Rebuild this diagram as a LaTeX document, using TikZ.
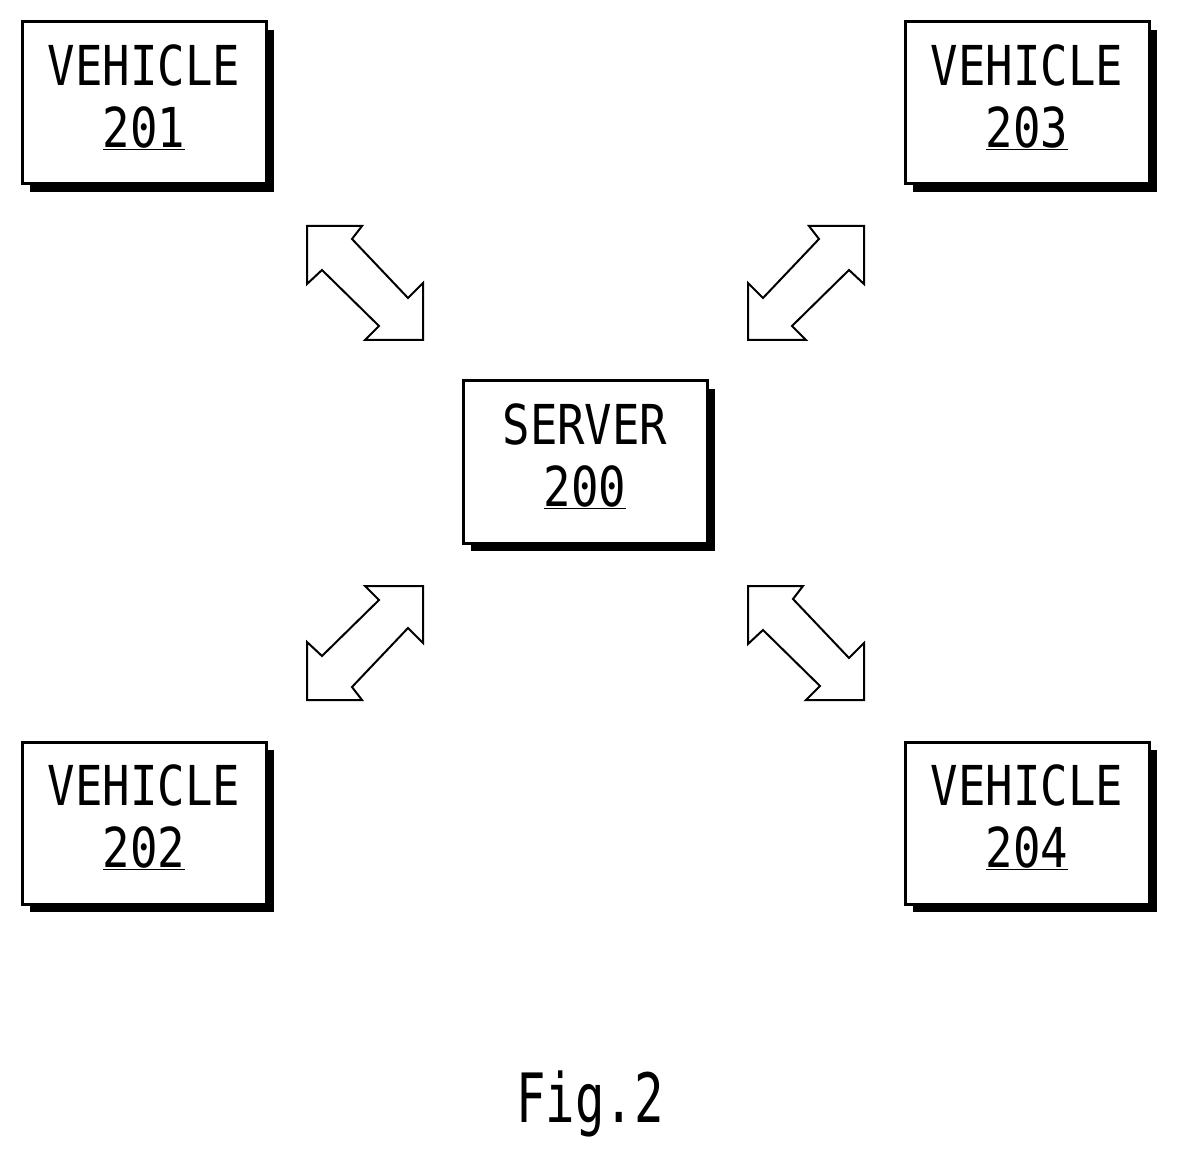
\documentclass[tikz,border=0pt]{standalone}
\usepackage{fontspec}
\setmainfont{DejaVu Sans Mono}
\usetikzlibrary{shadows}
\newcommand{\lbl}[2]{\scalebox{0.83}[1]{\fontsize{55}{66}\selectfont\begin{tabular}{@{}c@{}}#1\\[-4pt]\underline{#2}\end{tabular}}}
\begin{document}
\begin{tikzpicture}[x=1pt,y=-1pt,
  box/.style={draw,line width=3pt,fill=white,minimum width=244pt,minimum height=162pt,inner sep=0pt,
    general shadow={fill=black,shadow xshift=8pt,shadow yshift=-8pt}},
  dar/.style={draw,line width=2pt,fill=white,line join=miter}]
\useasboundingbox (0,0) rectangle (1179,1158);
\node[box] (v201) at (144,103) {\lbl{VEHICLE}{201}};
\node[box] (v203) at (1027,103) {\lbl{VEHICLE}{203}};
\node[box] (srv) at (585,462) {\lbl{SERVER}{200}};
\node[box] (v202) at (144,823) {\lbl{VEHICLE}{202}};
\node[box] (v204) at (1027,823) {\lbl{VEHICLE}{204}};
% arrow shape (top-left to bottom-right)
\def\arr{(0,0) -- (55,0) -- (45,13) -- (101,72) -- (116,57) -- (116,114) -- (58,114) -- (72,100) -- (15,44) -- (0,58) -- cycle}
\draw[dar,shift={(307,226)}] \arr;
\draw[dar,shift={(864,226)},xscale=-1] \arr;
\draw[dar,shift={(307,700)},yscale=-1] \arr;
\draw[dar,shift={(748,586)}] \arr;
\node (fig) at (590,1104) {\scalebox{0.72}[1]{\fontsize{68}{70}\selectfont Fig.2}};
\end{tikzpicture}
\end{document}
